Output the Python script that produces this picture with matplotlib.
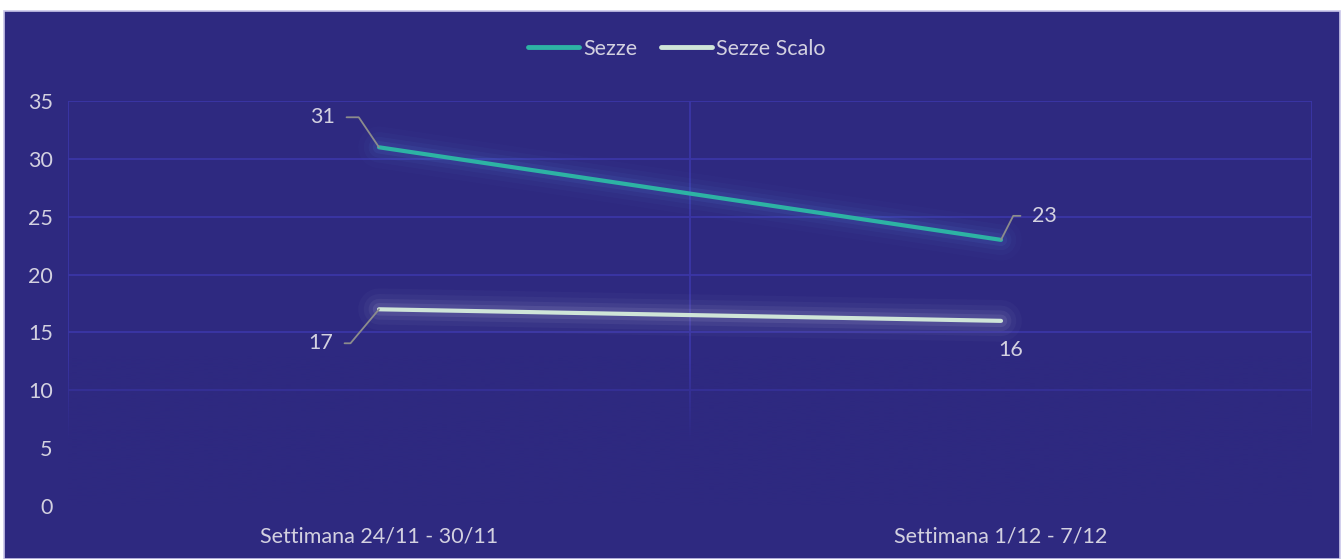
import numpy as np
import matplotlib
matplotlib.use("Agg")
import matplotlib.pyplot as plt
from matplotlib.patches import Rectangle
from matplotlib.colors import to_rgb

plt.rcParams["font.family"] = ["Lato", "DejaVu Sans"]

# ---- data ----
categories = ["Settimana 24/11 - 30/11", "Settimana 1/12 - 7/12"]
sezze = [31, 23]
sezze_scalo = [17, 16]
y_ticks = [0, 5, 10, 15, 20, 25, 30, 35]

BG = "#2E2980"
GRID = "#3B36A6"
TEAL = "#2DB3A4"
PALE = "#CFE5D8"
TXT = "#D3D1E0"
LEADER = "#8C8C8C"
FS = 15.5

fig = plt.figure(figsize=(13.43, 5.59), dpi=100)
fig.patch.set_facecolor("white")
fig.patches.append(Rectangle((4 / 1343, 0), 1336 / 1343, 548 / 559,
                             transform=fig.transFigure, facecolor=BG,
                             edgecolor="#C9C6EA", lw=1.2, zorder=-5))

ax = fig.add_axes([68 / 1343, 53 / 559, 1244 / 1343, 405 / 559])
ax.set_facecolor(BG)
x = np.arange(len(categories))

# grid
for yt in y_ticks[1:]:
    ax.axhline(yt, color=GRID, lw=1.3, zorder=1)
for xb in np.arange(-0.5, len(categories), 1.0):
    ax.axvline(xb, color=GRID, lw=1.3, zorder=1)

# fade the grid out towards the bottom
yy = np.linspace(0, 35, 400)
grad = np.zeros((len(yy), 1, 4))
grad[..., :3] = to_rgb(BG)
grad[:, 0, 3] = np.clip((13 - yy) / 7.5, 0, 1)
ax.imshow(grad, extent=(-0.5, 1.5, 0, 35), origin="lower", aspect="auto",
          interpolation="bilinear", zorder=1.5)
ax.set_xlim(-0.5, len(categories) - 0.5)
ax.set_ylim(0, 35)

for s in ax.spines.values():
    s.set_visible(False)
ax.set_yticks(y_ticks)
ax.set_xticks(x)
ax.set_xticklabels(categories)
ax.tick_params(length=0, colors=TXT, labelsize=FS)
ax.tick_params(axis="y", pad=11)
ax.tick_params(axis="x", pad=15)

# glow
for w, a in [(30, 0.035), (22, 0.05), (15, 0.08), (9, 0.12)]:
    ax.plot(x, sezze, color="#4F7BD0", lw=w, alpha=a, solid_capstyle="round", zorder=2)
    ax.plot(x, sezze_scalo, color="#B8B8D8", lw=w, alpha=a, solid_capstyle="round", zorder=2)

ax.plot(x, sezze, color=TEAL, lw=3, solid_capstyle="round", zorder=3, label="Sezze")
ax.plot(x, sezze_scalo, color=PALE, lw=3, solid_capstyle="round", zorder=3, label="Sezze Scalo")

# data labels with leader lines
label_cfg = [
    (0, sezze[0], (-56, 30), 124),
    (1, sezze[1], (43, 24), 63),
    (0, sezze_scalo[0], (-58, -34), 50),
]
for xi, yi, off, angB in label_cfg:
    ax.annotate(str(yi), xy=(xi, yi), xytext=off, textcoords="offset pixels",
                ha="center", va="center", color=TXT, fontsize=FS, zorder=4,
                arrowprops=dict(arrowstyle="-", color=LEADER, lw=1.3,
                                relpos=(1, 0.5) if off[0] < 0 else (0, 0.5),
                                shrinkA=6, shrinkB=0,
                                connectionstyle=f"angle,angleA=0,angleB={angB},rad=0"))
ax.annotate(str(sezze_scalo[1]), xy=(1, sezze_scalo[1]), xytext=(10, -29),
            textcoords="offset pixels", ha="center", va="center",
            color=TXT, fontsize=FS, zorder=4)

leg = fig.legend(loc="center", bbox_to_anchor=(677 / 1343, 1 - 49 / 559), ncol=2,
                 frameon=False, fontsize=FS, handlelength=2.35,
                 handletextpad=0.2, columnspacing=1.1)
for t in leg.get_texts():
    t.set_color(TXT)
for h in leg.get_lines():
    h.set_linewidth(3.5)

fig.savefig("out.png", dpi=100, facecolor=fig.get_facecolor())
